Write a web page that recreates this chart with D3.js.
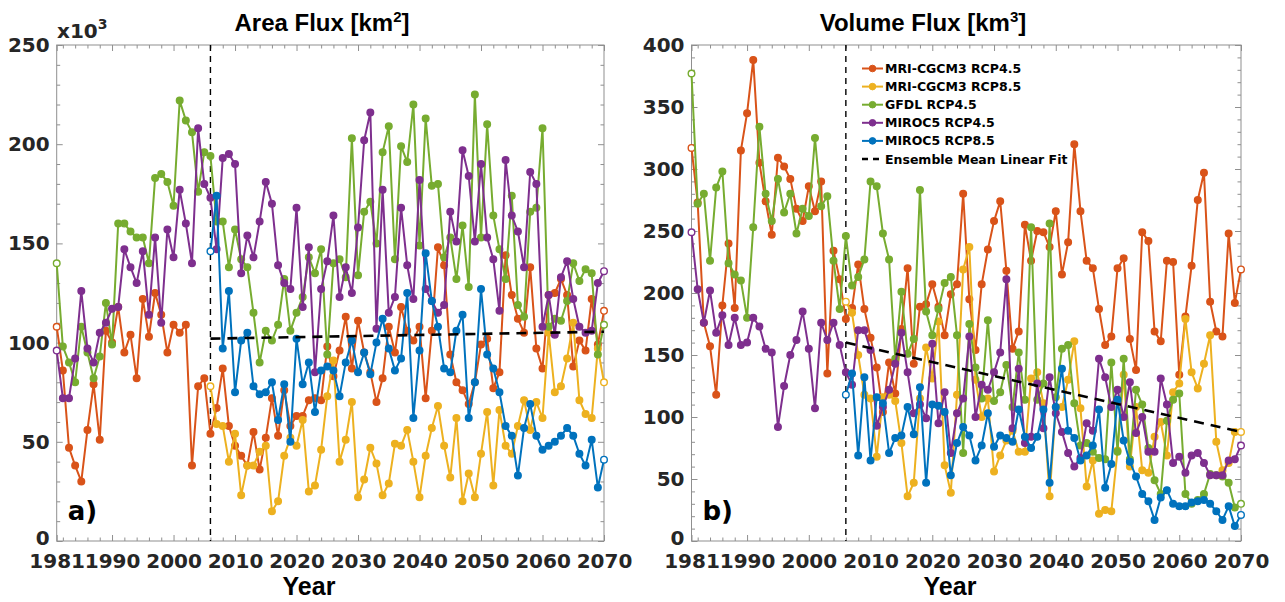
<!DOCTYPE html>
<html>
<head>
<meta charset="utf-8">
<script src="https://cdn.jsdelivr.net/npm/d3@7"></script>
<style>
  html, body { margin: 0; padding: 0; background: #fff; }
  svg { display: block; }
</style>
</head>
<body>
<svg id="chart" width="1285" height="602"></svg>
<script>
// ---------------- data ----------------
const xTickYears = [1981, 1990, 2000, 2010, 2020, 2030, 2040, 2050, 2060, 2070];
const areaTicks = [0, 50, 100, 150, 200, 250];
const volumeTicks = [0, 50, 100, 150, 200, 250, 300, 350, 400];

const seriesNames = ["MRI-CGCM3 RCP4.5", "MRI-CGCM3 RCP8.5", "GFDL RCP4.5", "MIROC5 RCP4.5", "MIROC5 RCP8.5"];
const fitName = "Ensemble Mean Linear Fit";

// years covered: RCP4.5 runs include the 1981-2005 history, RCP8.5 runs start in 2006
const yearsAll = d3.range(1981, 2071);
const yearsScen = d3.range(2006, 2071);

// Area flux, x10^3 km^2
const areaMriRcp45 = [
  108, 86, 47, 38, 30, 56, 79, 51, 106, 100,
  118, 95, 104, 82, 122, 103, 125, 114, 95, 109,
  105, 109, 38, 78, 82, 54, 67, 87, 58, 48,
  43, 38, 55, 36, 52, 72, 53, 76, 58, 63,
  63, 71, 72, 71, 98, 83, 96, 113, 87, 111,
  95, 85, 70, 82, 108, 95, 118, 106, 101, 108,
  72, 106, 148, 139, 94, 80, 76, 69, 80, 99,
  102, 77, 85, 144, 124, 112, 105, 138, 97, 87,
  124, 125, 132, 124, 88, 101, 96, 122, 99, 116
];
const areaMriRcp85 = [
  78, 59, 58, 40, 54,
  23, 38, 38, 45, 48, 15, 20, 43, 52, 48,
  61, 25, 28, 46, 73, 91, 40, 51, 70, 22,
  31, 47, 39, 23, 29, 49, 48, 56, 40, 22,
  43, 57, 68, 48, 32, 62, 20, 34, 22, 44,
  65, 28, 66, 48, 44, 58, 71, 56, 70, 62,
  105, 75, 78, 92, 110, 71, 64, 62, 97, 80
];
const areaGfdlRcp45 = [
  140, 98, 90, 80, 108, 95, 82, 93, 120, 99,
  160, 160, 156, 153, 153, 140, 183, 185, 181, 169,
  222, 212, 206, 176, 196, 194, 161, 161, 138, 157,
  142, 138, 115, 90, 106, 101, 109, 132, 106, 115,
  123, 143, 135, 147, 94, 140, 142, 133, 203, 134,
  166, 171, 150, 196, 209, 142, 199, 191, 220, 149,
  213, 179, 180, 143, 153, 132, 159, 128, 225, 153,
  210, 164, 147, 132, 174, 119, 113, 166, 168, 208,
  108, 112, 111, 121, 140, 131, 137, 135, 94, 109
];
const areaMirocRcp45 = [
  96, 72, 72, 92, 126, 97, 90, 105, 110, 117,
  118, 147, 138, 130, 146, 114, 153, 110, 157, 143,
  177, 160, 140, 208, 180, 173, 147, 193, 195, 190,
  135, 154, 143, 161, 181, 170, 139, 130, 127, 168,
  118, 148, 85, 127, 141, 164, 123, 138, 125, 158,
  202, 216, 107, 177, 115, 123, 168, 139, 122, 182,
  127, 121, 115, 119, 166, 151, 197, 184, 151, 190,
  153, 142, 116, 192, 164, 156, 138, 186, 180, 108,
  124, 104, 133, 141, 122, 108, 105, 106, 130, 136
];
const areaMirocRcp85 = [
  146, 174, 97, 126, 75,
  101, 105, 78, 74, 75, 80, 61, 79, 50, 102,
  79, 90, 65, 86, 88, 86, 73, 90, 101, 85,
  95, 84, 100, 112, 97, 86, 92, 125, 62, 96,
  145, 121, 108, 87, 85, 106, 114, 62, 80, 127,
  94, 87, 75, 58, 53, 33, 57, 69, 53, 46,
  48, 50, 53, 57, 53, 44, 38, 51, 27, 41
];

// Volume flux, km^3
const volumeMriRcp45 = [
  317, 273, 176, 157, 118, 190, 240, 188, 315, 345,
  388, 305, 274, 247, 309, 302, 292, 268, 258, 286,
  266, 290, 135, 234, 211, 179, 188, 223, 187, 164,
  140, 104, 144, 119, 171, 220, 143, 189, 191, 207,
  189, 166, 199, 207, 280, 195, 154, 207, 235, 258,
  274, 218, 155, 169, 255, 226, 250, 249, 237, 266,
  215, 241, 320, 266, 226, 220, 187, 158, 165, 220,
  228, 163, 138, 249, 242, 169, 161, 226, 225, 134,
  181, 222, 275, 297, 193, 169, 165, 248, 192, 219
];
const volumeMriRcp85 = [
  193, 184, 150, 118, 115,
  68, 116, 118, 113, 79, 36, 47, 115, 156, 131,
  177, 61, 39, 118, 219, 237, 130, 100, 115, 56,
  69, 81, 89, 72, 72, 131, 136, 111, 36, 108,
  108, 130, 161, 107, 44, 65, 22, 25, 24, 73,
  134, 60, 108, 57, 55, 84, 96, 69, 120, 127,
  179, 136, 123, 143, 166, 80, 57, 63, 88, 88
];
const volumeGfdlRcp45 = [
  377, 272, 280, 226, 285, 298, 224, 215, 210, 180,
  253, 334, 280, 258, 292, 265, 280, 248, 268, 262,
  325, 270, 278, 226, 187, 246, 206, 213, 227, 290,
  286, 248, 227, 147, 201, 151, 163, 283, 185, 166,
  187, 208, 213, 166, 71, 175, 140, 115, 178, 113,
  120, 142, 108, 152, 114, 253, 114, 127, 256, 116,
  155, 158, 111, 77, 79, 72, 67, 66, 144, 72,
  147, 66, 122, 110, 75, 49, 38, 97, 114, 119,
  38, 30, 33, 38, 54, 53, 52, 47, 27, 30
];
const volumeMirocRcp45 = [
  249, 203, 176, 202, 168, 182, 158, 180, 158, 160,
  180, 173, 155, 152, 92, 125, 150, 162, 185, 155,
  107, 176, 162, 176, 158, 136, 126, 170, 170, 154,
  93, 108, 122, 143, 168, 136, 103, 110, 99, 159,
  95, 120, 71, 103, 115, 165, 100, 126, 122, 136,
  152, 211, 91, 139, 79, 84, 127, 91, 132, 103,
  88, 71, 60, 67, 95, 89, 147, 132, 108, 122,
  100, 128, 87, 100, 72, 72, 131, 110, 63, 68,
  55, 69, 71, 63, 53, 53, 53, 65, 66, 77
];
const volumeMirocRcp85 = [
  118, 135, 69, 132, 65,
  116, 111, 71, 83, 85, 108, 86, 124, 47, 110,
  109, 104, 53, 79, 92, 85, 65, 77, 103, 76,
  85, 83, 80, 106, 84, 75, 84, 106, 47, 108,
  139, 89, 83, 65, 69, 77, 106, 43, 62, 114,
  81, 64, 52, 38, 32, 17, 35, 41, 30, 28,
  28, 31, 32, 33, 30, 24, 17, 28, 12, 21
];

// ensemble mean linear fit over the scenario period (end points)
const fitYears = [2006, 2070];
const areaFit = [102, 105.5];
const volumeFit = [160, 88];

// scenario split year
const splitYear = 2006;

// ---------------- styling ----------------
const seriesColors = ["#D95319", "#EDB120", "#77AC30", "#7E2F8E", "#0072BD"];
const axisGray = "#8f8f8f";
const labelColor = "#262626";
const tickFont = "'DejaVu Sans', sans-serif";
const titleFont = "'Liberation Sans', Arial, sans-serif";

const svg = d3.select("#chart");
svg.append("rect").attr("width", 1285).attr("height", 602).attr("fill", "#fff");

function zip(years, values) {
  return years.map((yr, i) => ({ year: yr, value: values[i] }));
}

function drawPanel(p) {
  const g = svg.append("g");
  const x = d3.scaleLinear().domain([1981, 2070]).range([p.left, p.right]);
  const y = d3.scaleLinear().domain([0, p.yMax]).range([p.bottom, p.top]);

  const minorX = d3.range(1982, 2070, 2).filter(v => !xTickYears.includes(v));
  const minorY = d3.range(10, p.yMax, 10).filter(v => v % 50 !== 0);

  function styleAxis(sel) {
    sel.select(".domain").remove();
    sel.selectAll(".tick line").attr("stroke", axisGray).attr("stroke-width", 1);
    sel.selectAll(".tick text")
      .attr("fill", labelColor)
      .style("font-family", tickFont)
      .style("font-weight", "bold")
      .style("font-size", "20px");
  }

  // bottom axis with year labels
  g.append("g").attr("transform", `translate(0,${p.bottom})`)
    .call(d3.axisBottom(x).tickValues(xTickYears).tickFormat(d3.format("d"))
      .tickSizeInner(-6).tickSizeOuter(0).tickPadding(13))
    .call(styleAxis);
  g.append("g").attr("transform", `translate(0,${p.bottom})`)
    .call(d3.axisBottom(x).tickValues(minorX).tickFormat("").tickSize(-3.5))
    .call(styleAxis);
  // top axis (ticks only)
  g.append("g").attr("transform", `translate(0,${p.top})`)
    .call(d3.axisTop(x).tickValues(xTickYears).tickFormat("").tickSize(-6))
    .call(styleAxis);
  g.append("g").attr("transform", `translate(0,${p.top})`)
    .call(d3.axisTop(x).tickValues(minorX).tickFormat("").tickSize(-3.5))
    .call(styleAxis);
  // left axis with value labels
  const yAxisG = g.append("g").attr("transform", `translate(${p.left},0)`)
    .call(d3.axisLeft(y).tickValues(p.ticks).tickFormat(d3.format("d"))
      .tickSizeInner(-6).tickSizeOuter(0).tickPadding(7))
    .call(styleAxis);
  // lift the zero label slightly so it clears the first year label
  yAxisG.selectAll(".tick text").filter(d => d === 0).attr("dy", "0.16em");
  g.append("g").attr("transform", `translate(${p.left},0)`)
    .call(d3.axisLeft(y).tickValues(minorY).tickFormat("").tickSize(-3.5))
    .call(styleAxis);
  // right axis (ticks only)
  g.append("g").attr("transform", `translate(${p.right},0)`)
    .call(d3.axisRight(y).tickValues(p.ticks).tickFormat("").tickSize(-6))
    .call(styleAxis);
  g.append("g").attr("transform", `translate(${p.right},0)`)
    .call(d3.axisRight(y).tickValues(minorY).tickFormat("").tickSize(-3.5))
    .call(styleAxis);

  // plot box
  g.append("rect")
    .attr("x", p.left).attr("y", p.top)
    .attr("width", p.right - p.left).attr("height", p.bottom - p.top)
    .attr("fill", "none").attr("stroke", axisGray).attr("stroke-width", 1);

  // vertical marker at the start of the scenario period
  g.append("line")
    .attr("x1", x(splitYear)).attr("x2", x(splitYear))
    .attr("y1", p.top).attr("y2", p.bottom)
    .attr("stroke", "#000").attr("stroke-width", 1.4)
    .attr("stroke-dasharray", "6,5");

  const line = d3.line().x(d => x(d.year)).y(d => y(d.value));

  p.series.forEach((s, si) => {
    const pts = zip(s.years, s.values);
    const color = seriesColors[si];
    g.append("path").datum(pts)
      .attr("d", line)
      .attr("fill", "none")
      .attr("stroke", color)
      .attr("stroke-width", 2)
      .attr("stroke-linejoin", "round");
    g.selectAll(null).data(pts).enter().append("circle")
      .attr("cx", d => x(d.year))
      .attr("cy", d => y(d.value))
      .attr("r", 3.3)
      .attr("fill", (d, i) => (i === 0 || i === pts.length - 1) ? "#fff" : color)
      .attr("stroke", color)
      .attr("stroke-width", 1.4);
  });

  // ensemble mean linear fit
  g.append("path").datum(zip(fitYears, p.fit))
    .attr("d", line)
    .attr("fill", "none")
    .attr("stroke", "#000")
    .attr("stroke-width", 2.6)
    .attr("stroke-dasharray", "10,7");

  // title with superscript unit
  const title = g.append("text")
    .attr("x", p.titleX).attr("y", 31)
    .attr("text-anchor", "middle")
    .style("font-family", titleFont).style("font-weight", "bold").style("font-size", "24px")
    .attr("fill", "#000");
  title.append("tspan").text(p.titleMain);
  title.append("tspan").attr("dy", -9).style("font-size", "15px").text(p.titleSup);
  title.append("tspan").attr("dy", 9).text("]");

  // x axis label
  g.append("text")
    .attr("x", p.xLabelX).attr("y", 595)
    .attr("text-anchor", "middle")
    .style("font-family", titleFont).style("font-weight", "bold").style("font-size", "25px")
    .attr("fill", "#000")
    .text("Year");

  // panel letter
  g.append("text")
    .attr("x", p.left + 11).attr("y", 520)
    .style("font-family", tickFont).style("font-weight", "bold").style("font-size", "26px")
    .attr("fill", "#000")
    .text(p.letter);

  return { g, x, y };
}

// ---- panel a: area flux ----
drawPanel({
  left: 56.7, right: 604, top: 45, bottom: 541,
  yMax: 250, ticks: areaTicks,
  series: [
    { years: yearsAll, values: areaMriRcp45 },
    { years: yearsScen, values: areaMriRcp85 },
    { years: yearsAll, values: areaGfdlRcp45 },
    { years: yearsAll, values: areaMirocRcp45 },
    { years: yearsScen, values: areaMirocRcp85 }
  ],
  fit: areaFit,
  titleX: 322, titleMain: "Area Flux [km", titleSup: "2",
  xLabelX: 309, letter: "a)"
});

// exponent note above the area axis
const expo = svg.append("text")
  .attr("x", 57).attr("y", 38)
  .style("font-family", tickFont).style("font-weight", "bold").style("font-size", "20px")
  .attr("fill", labelColor);
expo.append("tspan").text("x10");
expo.append("tspan").attr("dy", -9).style("font-size", "14px").text("3");

// ---- panel b: volume flux ----
drawPanel({
  left: 691.5, right: 1241, top: 45, bottom: 541,
  yMax: 400, ticks: volumeTicks,
  series: [
    { years: yearsAll, values: volumeMriRcp45 },
    { years: yearsScen, values: volumeMriRcp85 },
    { years: yearsAll, values: volumeGfdlRcp45 },
    { years: yearsAll, values: volumeMirocRcp45 },
    { years: yearsScen, values: volumeMirocRcp85 }
  ],
  fit: volumeFit,
  titleX: 923, titleMain: "Volume Flux [km", titleSup: "3",
  xLabelX: 950, letter: "b)"
});

// ---- legend (panel b) ----
const legend = svg.append("g");
const legX0 = 862, legX1 = 883, legTextX = 885, legY0 = 68.5, legStep = 18.1;
seriesNames.forEach((name, i) => {
  const yy = legY0 + i * legStep;
  legend.append("line")
    .attr("x1", legX0).attr("x2", legX1).attr("y1", yy).attr("y2", yy)
    .attr("stroke", seriesColors[i]).attr("stroke-width", 2);
  legend.append("circle")
    .attr("cx", (legX0 + legX1) / 2).attr("cy", yy).attr("r", 3.3)
    .attr("fill", seriesColors[i]).attr("stroke", seriesColors[i]);
  legend.append("text")
    .attr("x", legTextX).attr("y", yy).attr("dy", "0.36em")
    .style("font-family", tickFont).style("font-weight", "bold").style("font-size", "12.5px")
    .attr("fill", "#000")
    .text(name);
});
{
  const yy = legY0 + seriesNames.length * legStep;
  legend.append("line")
    .attr("x1", legX0).attr("x2", legX1).attr("y1", yy).attr("y2", yy)
    .attr("stroke", "#000").attr("stroke-width", 2.4)
    .attr("stroke-dasharray", "6,5");
  legend.append("text")
    .attr("x", legTextX).attr("y", yy).attr("dy", "0.36em")
    .style("font-family", tickFont).style("font-weight", "bold").style("font-size", "12.5px")
    .attr("fill", "#000")
    .text(fitName);
}
</script>
</body>
</html>
